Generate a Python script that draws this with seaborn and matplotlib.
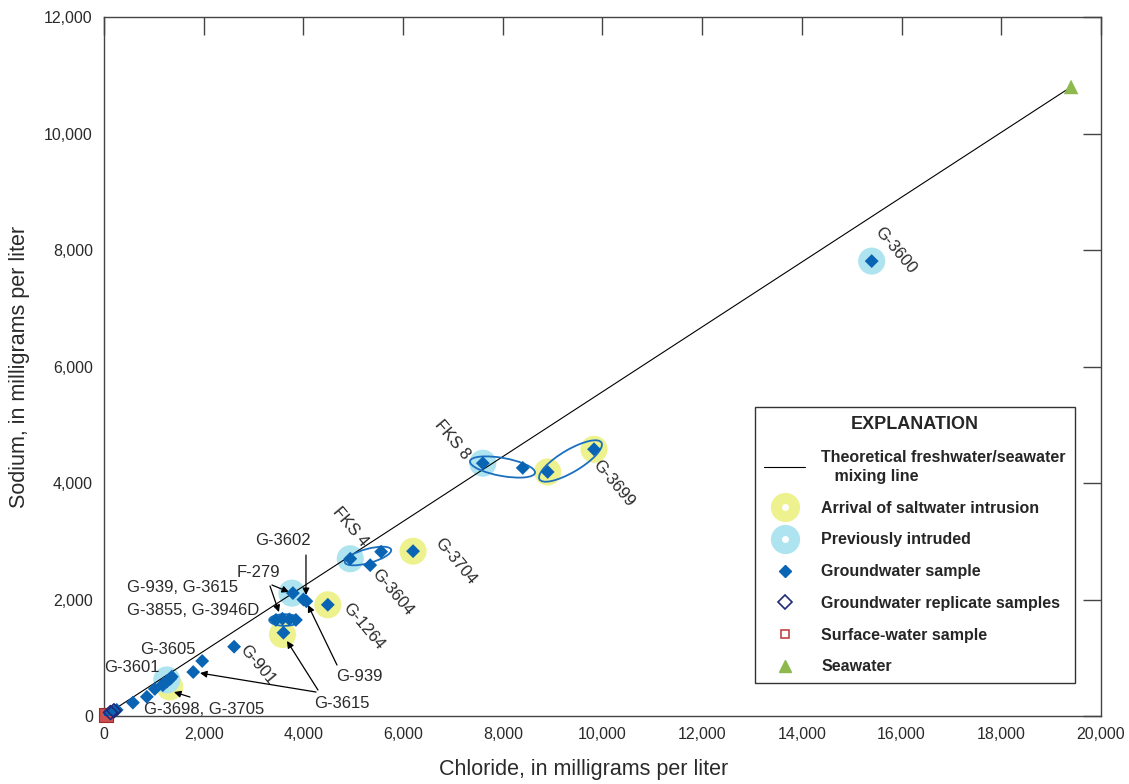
import matplotlib
matplotlib.use("Agg")
import matplotlib.pyplot as plt
from matplotlib.lines import Line2D
from matplotlib.patches import Ellipse
from matplotlib.ticker import FuncFormatter
import seaborn as sns

# groundwater samples (chloride, sodium) in mg/L
gw_cl = [15400, 9830, 8900, 7600, 8400, 4940, 5560, 5340, 6200, 4490,
         3790, 4000, 4060, 3450, 3580, 3720, 3850, 3600, 2610, 1970,
         1790, 1360, 1330, 1260, 1200, 1180, 1020, 860, 580, 255, 180, 80]
gw_na = [7810, 4580, 4190, 4340, 4260, 2700, 2820, 2590, 2830, 1910,
         2110, 2000, 1970, 1650, 1670, 1660, 1650, 1430, 1190, 945,
         755, 675, 640, 590, 560, 530, 465, 330, 230, 105, 75, 35]

# replicate and surface-water samples
rep_cl = [200, 130]
rep_na = [90, 60]
sw_cl = [50]
sw_na = [20]

# seawater end member and mixing line
sea_cl = [19400]
sea_na = [10800]
mix_cl = [0, 19400]
mix_na = [0, 10800]

# arrival of saltwater intrusion (yellow) / previously intruded (blue)
arrival_cl = [9830, 8900, 6200, 4490, 3580, 1320]
arrival_na = [4580, 4190, 2830, 1910, 1400, 500]
prev_cl = [15400, 7600, 4940, 3770, 1260]
prev_na = [7810, 4340, 2700, 2110, 620]

# grouped samples (center x, center y, width, height, angle)
groups = [
    (7994, 4275, 1320, 310, -8.6),
    (9358, 4378, 1395, 394, 26.3),
    (5296, 2747, 954, 245, 12.9),
    (3624, 1648, 620, 200, 0),
]

# rotated well labels (text, x, y)
rot_labels = [
    ("G-3600", 15867, 8000),
    ("FKS 8", 6981, 4738),
    ("G-3699", 10230, 4000),
    ("FKS 4", 4935, 3245),
    ("G-3704", 7041, 2661),
    ("G-3604", 5777, 2129),
    ("G-1264", 5196, 1545),
    ("G-901", 3089, 876),
]

# flat labels (text, x, y, ha)
flat_labels = [
    ("G-3602", 3591, 3021, "center"),
    ("F-279", 3089, 2472, "center"),
    ("G-939, G-3615", 461, 2215, "left"),
    ("G-3855, G-3946D", 461, 1820, "left"),
    ("G-3605", 1274, 1150, "center"),
    ("G-3601", 562, 841, "center"),
    ("G-3698, G-3705", 2006, 120, "center"),
    ("G-939", 5115, 670, "center"),
    ("G-3615", 4774, 223, "center"),
]

# leader arrows (from x, from y, to x, to y)
arrows = [
    (3370, 2249, 3711, 2129),
    (3330, 2232, 3510, 1785),
    (4052, 2764, 4052, 2077),
    (4674, 876, 4092, 1906),
    (4293, 446, 3671, 1288),
    (4253, 412, 1926, 738),
    (1725, 326, 1404, 412),
]

YELLOW = "#eef28e"
LBLUE = "#aee3f0"
BLUE = "#0a64b4"
NAVY = "#1f2a78"
RED = "#c04545"
GREEN = "#8db94f"
TXT = "#2a2a2a"

sns.set_style("white")
plt.rcParams["font.family"] = ["Liberation Sans", "DejaVu Sans"]

fig = plt.figure(figsize=(11.29, 7.84), dpi=100)
ax = fig.add_axes([0.0921, 0.0867, 0.8831, 0.8916])

sns.scatterplot(x=arrival_cl, y=arrival_na, marker="o", s=380, color=YELLOW,
                edgecolor="none", ax=ax, zorder=1)
sns.scatterplot(x=prev_cl, y=prev_na, marker="o", s=380, color=LBLUE,
                edgecolor="none", ax=ax, zorder=1)
sns.lineplot(x=mix_cl, y=mix_na, color="black", lw=0.8, ax=ax, zorder=2)

for cx, cy, w, h, ang in groups:
    ax.add_patch(Ellipse((cx, cy), w, h, angle=ang, fill=False,
                         edgecolor="#1a6fc0", lw=1.3, zorder=4))

sns.scatterplot(x=gw_cl, y=gw_na, marker="D", s=50, color=BLUE,
                edgecolor="none", ax=ax, zorder=5)
sns.scatterplot(x=rep_cl, y=rep_na, marker="D", s=50, facecolor="none",
                edgecolor=NAVY, linewidth=1.2, ax=ax, zorder=5, clip_on=False)
sns.scatterplot(x=sw_cl, y=sw_na, marker="s", s=100, color="#cc5050",
                edgecolor="#a02a2a", ax=ax, zorder=3, clip_on=False)
sns.scatterplot(x=sea_cl, y=sea_na, marker="^", s=110, color=GREEN,
                edgecolor="none", ax=ax, zorder=5)

for txt, x, y in rot_labels:
    ax.text(x, y, txt, rotation=-50, ha="center", va="center",
            fontsize=12, color=TXT, rotation_mode="anchor")
for txt, x, y, ha in flat_labels:
    ax.text(x, y, txt, ha=ha, va="center", fontsize=12, color=TXT)
for x0, y0, x1, y1 in arrows:
    ax.annotate("", xy=(x1, y1), xytext=(x0, y0),
                arrowprops=dict(arrowstyle="-|>", color="black", lw=0.9,
                                mutation_scale=10, shrinkA=0, shrinkB=0))

ax.set_xlim(0, 20000)
ax.set_ylim(0, 12000)
ax.set_xticks(range(0, 20001, 2000))
ax.set_yticks(range(0, 12001, 2000))
fmt = FuncFormatter(lambda v, p: f"{int(v):,}")
ax.xaxis.set_major_formatter(fmt)
ax.yaxis.set_major_formatter(fmt)
ax.tick_params(direction="in", length=13, width=1, top=True, right=True,
               labelsize=11.5, labelcolor=TXT, color="#444444", pad=8)
for sp in ax.spines.values():
    sp.set_color("#444444")
    sp.set_linewidth(1)
ax.set_xlabel("Chloride, in milligrams per liter", fontsize=15.5, color=TXT)
ax.xaxis.set_label_coords(0.4815, -0.062)
ax.set_ylabel("Sodium, in milligrams per liter", fontsize=15.5, color=TXT,
              labelpad=10)

handles = [
    Line2D([], [], color="black", lw=0.8),
    (Line2D([], [], marker="o", ms=20, color=YELLOW, ls=""),
     Line2D([], [], marker="o", ms=4, color="white", ls="")),
    (Line2D([], [], marker="o", ms=20, color=LBLUE, ls=""),
     Line2D([], [], marker="o", ms=4, color="white", ls="")),
    Line2D([], [], marker="D", ms=6.5, color=BLUE, ls=""),
    Line2D([], [], marker="D", ms=7, mfc="none", mec=NAVY, mew=1.2, ls=""),
    Line2D([], [], marker="s", ms=6, mfc="none", mec=RED, mew=1.2, ls=""),
    Line2D([], [], marker="^", ms=9, color=GREEN, ls=""),
]
labels = [
    "Theoretical freshwater/seawater\n   mixing line",
    "Arrival of saltwater intrusion",
    "Previously intruded",
    "Groundwater sample",
    "Groundwater replicate samples",
    "Surface-water sample",
    "Seawater",
]
leg = ax.legend(handles, labels, loc="upper left", bbox_to_anchor=(0.653, 0.442),
                borderaxespad=0, title="EXPLANATION", frameon=True,
                fancybox=False, edgecolor="#333333", framealpha=1,
                handlelength=2.6, labelspacing=1.05, borderpad=0.55,
                handletextpad=1.0,
                prop={"weight": "bold", "size": 11.5},
                title_fontproperties={"weight": "bold", "size": 13})
leg.get_frame().set_linewidth(1)
for t in leg.get_texts():
    t.set_linespacing(1.35)

fig.savefig("out.png", dpi=100)
